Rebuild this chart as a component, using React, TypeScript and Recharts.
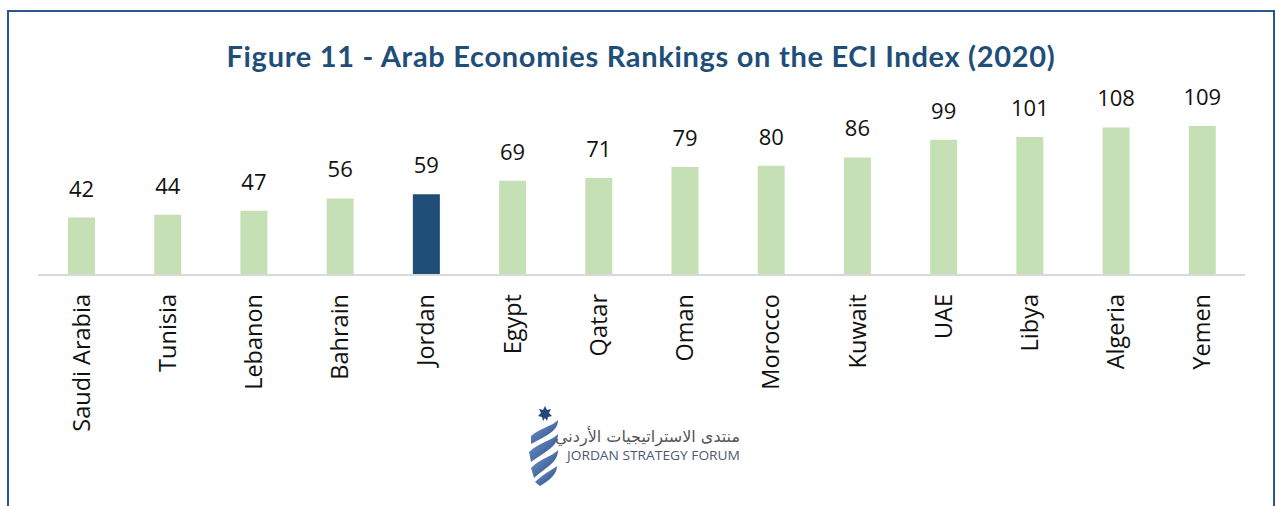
import * as React from 'react';
import { BarChart, Bar, XAxis, YAxis, Cell, LabelList } from 'recharts';

const countries = [
  'Saudi Arabia',
  'Tunisia',
  'Lebanon',
  'Bahrain',
  'Jordan',
  'Egypt',
  'Qatar',
  'Oman',
  'Morocco',
  'Kuwait',
  'UAE',
  'Libya',
  'Algeria',
  'Yemen',
];
const ranks = [42, 44, 47, 56, 59, 69, 71, 79, 80, 86, 99, 101, 108, 109];
const highlight = 'Jordan';

const data = countries.map((country, i) => ({ country, rank: ranks[i] }));

const NAVY = '#1f4e79';
const GREEN = '#c5e0b4';
const LABEL_FONT = '"Open Sans", "Noto Sans", sans-serif';

// rotated category label, reads bottom-to-top like the Excel original
function CountryTick({ x, y, payload }: any) {
  return (
    <g transform={`translate(${x},${y})`}>
      <text
        transform="rotate(-90)"
        x={0}
        y={0}
        dy="0.36em"
        textAnchor="end"
        fill="#111"
        fontSize={23.5}
        fontFamily={LABEL_FONT}
      >
        {payload.value}
      </text>
    </g>
  );
}

function Logo() {
  return (
    <svg
      width={240}
      height={90}
      style={{ position: 'absolute', left: 520, top: 400 }}
    >
      <defs>
        <linearGradient id="swoosh" x1="0" y1="0" x2="1" y2="1">
          <stop offset="0%" stopColor="#7d9bc8" />
          <stop offset="100%" stopColor="#1f4a88" />
        </linearGradient>
      </defs>
      {/* star */}
      <polygon
        points="25,6 27,10 31,9 29,13 32,16 28,17 27,21 25,18 23,21 22,17 18,16 21,13 19,9 23,10"
        fill="#24477e"
      />
      {/* swooshes */}
      <path d="M11,36 C20,28 33,26 38,20 C38,30 30,34 11,44 Z" fill="url(#swoosh)" />
      <path d="M9,52 C20,42 33,40 38,34 C38,46 28,50 11,62 Z" fill="url(#swoosh)" />
      <path d="M11,68 C21,58 33,56 38,50 C38,62 28,66 14,78 Z" fill="url(#swoosh)" />
      <path d="M15,82 C23,74 32,70 37,66 C37,74 30,80 20,86 Z" fill="url(#swoosh)" />
      <text
        x={220}
        y={42}
        textAnchor="end"
        fontSize={16}
        fill="#555"
        fontFamily='"DejaVu Sans", "Noto Sans", sans-serif'
      >
        منتدى الاستراتيجيات الأردني
      </text>
      <text
        x={47}
        y={60}
        fontSize={13.5}
        fill="#4a5a70"
        textLength={173}
        lengthAdjust="spacingAndGlyphs"
        fontFamily='"Open Sans", "Noto Sans", sans-serif'
      >
        JORDAN STRATEGY FORUM
      </text>
    </svg>
  );
}

export default function App() {
  return (
    <div
      style={{
        position: 'absolute',
        left: 0,
        top: 0,
        width: 1276,
        height: 506,
        overflow: 'hidden',
        background: '#fff',
      }}
    >
      <div
        style={{
          position: 'absolute',
          left: 7,
          top: 10,
          width: 1264,
          height: 520,
          border: '2px solid #2a5888',
        }}
      />
      <div
        style={{
          position: 'absolute',
          left: 0,
          top: 38,
          width: 1282,
          textAlign: 'center',
          fontFamily: 'Lato, "Open Sans", sans-serif',
          fontWeight: 700,
          fontSize: 29,
          color: NAVY,
          letterSpacing: 0.7,
          whiteSpace: 'nowrap',
        }}
      >
        Figure 11 - Arab Economies Rankings on the ECI Index (2020)
      </div>
      <BarChart
        width={1276}
        height={506}
        data={data}
        margin={{ top: 111, right: 31, left: 38, bottom: 51 }}
        style={{ position: 'absolute', left: 0, top: 0 }}
      >
        <XAxis
          dataKey="country"
          interval={0}
          height={180}
          tickLine={false}
          tickSize={0}
          tickMargin={19}
          axisLine={{ stroke: '#d9d9d9', strokeWidth: 2 }}
          tick={<CountryTick />}
        />
        <YAxis hide domain={[0, 120]} />
        <Bar dataKey="rank" barSize={27} isAnimationActive={false}>
          {data.map((d) => (
            <Cell key={d.country} fill={d.country === highlight ? NAVY : GREEN} />
          ))}
          <LabelList
            dataKey="rank"
            position="top"
            offset={21}
            fill="#111"
            fontSize={22}
            fontFamily={LABEL_FONT}
          />
        </Bar>
      </BarChart>
      <Logo />
    </div>
  );
}
